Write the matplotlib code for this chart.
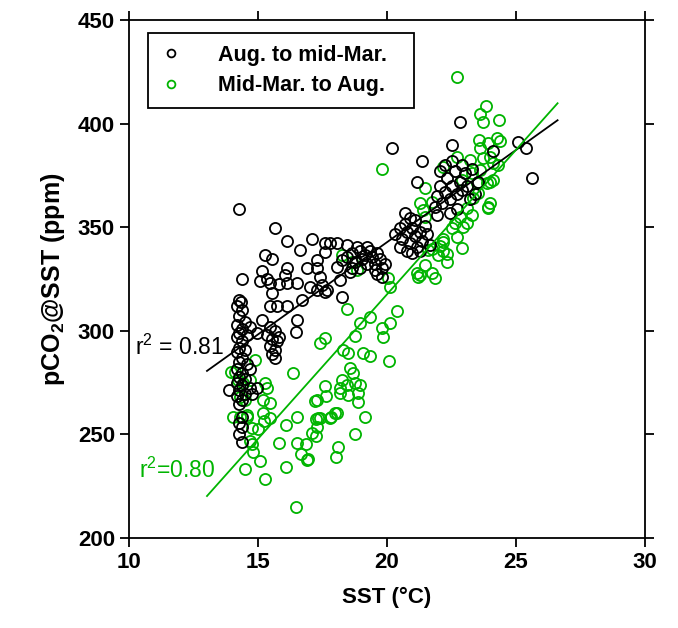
import matplotlib
matplotlib.use("Agg")
import numpy as np
import matplotlib.pyplot as plt

plt.rcParams["font.family"] = ["Liberation Sans", "DejaVu Sans"]
plt.rcParams["mathtext.fontset"] = "custom"
plt.rcParams["mathtext.rm"] = "Liberation Sans"
plt.rcParams["mathtext.bf"] = "Liberation Sans:bold"
plt.rcParams["mathtext.default"] = "regular"

# Aug. to mid-Mar. (black)
aug_sst = [
    14.29, 14.19, 14.39, 14.29, 14.49, 14.19, 14.39, 14.29, 14.58, 14.19, 14.39, 14.29, 14.49, 14.19,
    14.39, 14.29, 14.58, 14.19, 14.39, 14.29, 14.49, 14.19, 14.39, 14.68, 14.29, 14.49, 14.19, 14.39,
    14.29, 13.90, 14.68, 14.78, 14.97, 14.39, 14.29, 14.39, 14.29, 14.39, 14.68, 14.97,
    14.29, 15.65, 16.14, 16.62, 17.11, 15.26, 15.55, 16.14, 15.16, 14.39, 15.07, 15.36, 15.46, 15.84,
    16.14, 16.52, 16.04, 15.55, 14.34, 15.16, 15.46, 15.75, 16.14, 16.52, 16.47,
    15.46, 15.65, 15.36, 15.55, 15.75, 15.46, 15.65, 15.55, 15.65, 15.84,
    17.59, 17.79, 18.08, 18.47, 17.59, 17.30, 17.30, 17.40, 17.49, 17.30, 17.59, 17.69, 18.18, 18.27,
    18.08, 18.27, 16.91, 17.01, 16.72,
    18.47, 18.66, 18.76, 18.95, 19.05, 19.14, 19.24, 19.34, 19.44, 19.53, 19.63, 19.73, 19.82, 19.53,
    19.63, 19.82, 18.95, 18.66, 18.56, 19.92, 19.24, 18.85,
    20.31, 20.51, 20.60, 20.70, 20.80, 20.89, 20.99, 21.09, 21.18, 21.28, 21.37, 21.47, 21.57, 20.89,
    21.09, 20.80, 20.99, 21.28, 21.67, 20.51, 20.70,
    21.86, 21.96, 22.06, 22.15, 22.25, 22.35, 22.44, 22.54, 22.64, 22.74, 22.83, 22.93, 23.03, 23.12,
    23.22, 22.06, 22.25, 22.44, 22.74, 23.31, 23.52, 21.96, 22.54, 22.93, 23.41,
    22.54, 22.83, 24.10, 25.09, 25.39, 25.63, 21.37, 21.18, 20.21,
]
aug_pco2 = [
    315.0, 312.0, 310.0, 307.0, 304.0, 303.0, 301.0, 298.9, 297.9, 296.9, 294.9, 291.8, 290.8, 289.8,
    286.7, 284.7, 283.7, 281.7, 279.6, 277.6, 276.6, 274.6, 273.6, 272.5, 271.5, 269.5, 268.5, 266.5,
    264.4, 271.5, 281.7, 269.5, 272.5, 258.3, 255.3, 253.3, 250.2, 246.2, 301.9, 298.9,
    358.7, 349.6, 343.5, 339.0, 344.5, 336.4, 334.4, 330.3, 328.8, 325.0, 324.2, 325.0, 323.2, 322.7,
    323.2, 323.0, 326.9, 318.1, 313.9, 305.0, 312.0, 312.0, 312.0, 305.0, 299.4,
    301.9, 300.0, 297.9, 295.9, 294.9, 292.8, 290.8, 288.8, 286.7, 296.9,
    342.5, 342.5, 342.5, 341.5, 338.0, 334.2, 330.3, 326.0, 322.1, 319.7, 318.7, 319.7, 324.5, 316.1,
    330.7, 334.2, 330.3, 321.2, 315.0,
    335.4, 337.4, 333.3, 338.4, 334.4, 336.4, 332.3, 338.4, 335.4, 332.3, 337.4, 334.4, 330.3, 329.3,
    327.3, 326.0, 330.3, 330.3, 328.3, 332.3, 340.5, 340.5,
    346.5, 349.6, 344.5, 351.6, 347.5, 342.5, 349.6, 345.5, 340.5, 347.5, 343.5, 350.6, 346.5, 354.6,
    353.6, 338.4, 337.4, 338.4, 341.5, 340.5, 356.7,
    359.7, 364.8, 369.8, 361.7, 366.8, 373.9, 363.8, 369.8, 376.9, 365.8, 371.9, 367.8, 375.9, 369.8,
    363.8, 376.9, 379.9, 356.7, 358.7, 377.9, 371.9, 355.7, 381.9, 379.9, 365.8,
    389.6, 400.7, 386.7, 391.1, 388.1, 373.9, 381.9, 371.9, 388.1,
]

# Mid-Mar. to Aug. (green)
mar_sst = [
    14.30, 14.57, 15.20, 15.24, 15.00, 14.69, 14.77, 14.81, 15.08, 14.49, 15.28, 16.09,
    15.82, 16.52, 17.25, 17.40, 17.79, 17.98, 19.14, 18.76, 17.25, 16.52, 16.86, 16.67,
    16.90, 18.11, 18.04, 16.09, 16.48,
    14.11, 14.23, 14.42, 14.69, 14.88, 14.30, 14.03, 14.49, 15.28, 15.36, 15.20, 15.47,
    15.47, 16.36, 17.40, 17.28, 17.28, 13.95, 14.58, 14.78, 17.11,
    18.46, 18.95, 19.34, 18.76, 17.59, 18.30, 18.50, 19.07, 19.34, 19.81, 19.85, 20.12,
    20.40, 20.10, 18.57, 18.68, 18.26, 18.18, 18.46, 18.76, 18.95, 18.87, 18.50, 18.18,
    18.87, 17.59, 17.63, 17.20, 18.06, 17.83, 17.32, 16.93,
    19.83, 20.12, 20.05, 21.28, 21.20, 21.87, 22.33, 22.91, 21.28, 21.40, 21.59, 21.48,
    21.98, 22.17, 22.95, 23.49,
    22.71, 23.84, 23.61, 23.72, 24.34, 23.57, 24.27, 24.38, 22.71, 23.22, 23.72, 24.00,
    24.11, 24.30, 24.00, 23.88, 23.92, 23.33, 22.83, 22.64, 23.61, 23.29, 22.91, 23.10,
    22.16, 23.62, 23.91, 21.77, 21.48, 22.54, 22.74, 23.12, 23.32, 23.91, 24.00, 24.10,
    22.16, 22.06, 21.77, 22.16, 22.35, 21.18, 21.77, 23.52, 21.48, 18.27, 18.66, 18.85,
]
mar_pco2 = [
    258.3, 258.3, 260.3, 256.3, 252.6, 246.8, 245.3, 241.4, 237.1, 233.3, 228.5, 254.5,
    245.8, 258.3, 257.3, 257.8, 257.8, 260.3, 258.3, 250.1, 249.2, 245.8, 245.2, 240.5,
    237.6, 243.9, 239.1, 234.3, 214.8,
    280.1, 276.2, 274.8, 276.2, 285.8, 267.9, 258.3, 266.6, 274.8, 272.3, 266.6, 265.1,
    257.8, 279.6, 294.3, 266.6, 253.5, 280.1, 259.4, 253.1, 250.7,
    310.5, 303.8, 306.6, 297.5, 296.5, 290.7, 289.3, 289.3, 287.8, 301.4, 297.0, 303.8,
    309.5, 285.4, 281.9, 279.6, 276.2, 272.3, 273.8, 274.8, 273.8, 269.9, 268.9, 269.9,
    265.5, 273.4, 268.5, 266.0, 260.3, 258.3, 257.8, 238.1,
    378.0, 321.1, 325.4, 326.9, 325.9, 325.4, 333.1, 339.9, 361.6, 358.2, 338.9, 331.7,
    336.5, 342.8, 350.1, 371.3,
    422.4, 408.4, 404.6, 400.7, 401.6, 392.0, 393.0, 391.5, 383.8, 382.4, 383.3, 383.8,
    380.9, 379.9, 371.8, 371.3, 359.2, 364.1, 354.8, 352.0, 377.5, 376.1, 372.8, 359.2,
    378.9, 388.1, 390.6, 362.1, 354.8, 349.6, 345.2, 352.0, 355.8, 359.7, 361.7, 372.8,
    344.3, 340.8, 339.4, 338.4, 337.0, 327.9, 327.9, 366.5, 368.8, 336.4, 333.3, 329.3,
]

# regression lines (end points)
fit_x = [13.03, 26.62]
aug_fit = [280.6, 401.6]
mar_fit = [220.2, 409.8]

green = "#00b400"

fig = plt.figure(figsize=(6.78, 6.28), dpi=100)
ax = fig.add_axes([0.190, 0.1435, 0.761, 0.8247])

ax.plot(mar_sst, mar_pco2, "o", mfc="none", mec=green, ms=8, mew=1.3,
        label="Mid-Mar. to Aug.", zorder=2)
ax.plot(aug_sst, aug_pco2, "o", mfc="none", mec="black", ms=8, mew=1.3,
        label="Aug. to mid-Mar.", zorder=3)
ax.plot(fit_x, aug_fit, "-", color="black", lw=1.3, zorder=4)
ax.plot(fit_x, mar_fit, "-", color=green, lw=1.3, zorder=4)

ax.text(10.23, 292, r"r$^2$ = 0.81", fontsize=16.5, color="black", va="center")
ax.text(10.39, 232.5, r"r$^2$=0.80", fontsize=16.5, color=green, va="center")

ax.set_xlim(10, 30)
ax.set_ylim(200, 450)
ax.set_xticks([10, 15, 20, 25, 30])
ax.set_yticks([200, 250, 300, 350, 400, 450])
ax.tick_params(direction="out", length=6.5, width=1.3, top=True, right=True,
               labelsize=16)
for lab in ax.get_xticklabels() + ax.get_yticklabels():
    lab.set_fontweight("bold")
for sp in ax.spines.values():
    sp.set_linewidth(1.3)

ax.set_xlabel("SST (°C)", fontsize=16, fontweight="bold", labelpad=10)
ax.set_ylabel(r"pCO$_\mathbf{2}$@SST (ppm)", fontsize=18, fontweight="bold",
              labelpad=8)

handles, labels = ax.get_legend_handles_labels()
leg = ax.legend(handles[::-1], labels[::-1], loc="upper left", mode="expand",
                bbox_to_anchor=(0.037, 0.5, 0.515, 0.475), fancybox=False,
                edgecolor="black", framealpha=1,
                prop={"weight": "bold", "size": 15.5},
                markerscale=0.7, handletextpad=1.7, labelspacing=0.45,
                borderpad=0.55, handlelength=1.0, borderaxespad=0)
leg.get_frame().set_linewidth(1.3)

fig.savefig("out.png", dpi=100)
